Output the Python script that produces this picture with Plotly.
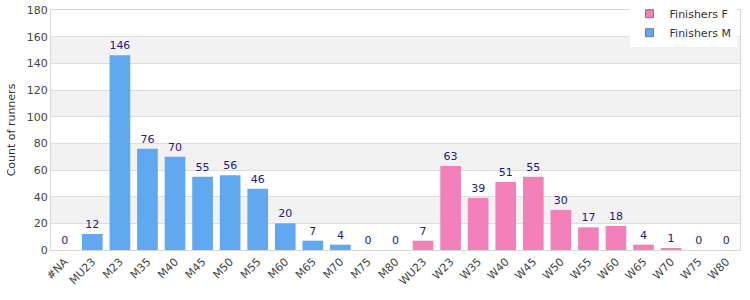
import plotly.graph_objects as go

categories = ["#NA", "MU23", "M23", "M35", "M40", "M45", "M50", "M55", "M60", "M65", "M70", "M75", "M80",
              "WU23", "W23", "W35", "W40", "W45", "W50", "W55", "W60", "W65", "W70", "W75", "W80"]
m_categories = ["#NA", "MU23", "M23", "M35", "M40", "M45", "M50", "M55", "M60", "M65", "M70", "M75", "M80"]
m_values = [0, 12, 146, 76, 70, 55, 56, 46, 20, 7, 4, 0, 0]
f_categories = ["WU23", "W23", "W35", "W40", "W45", "W50", "W55", "W60", "W65", "W70", "W75", "W80"]
f_values = [7, 63, 39, 51, 55, 30, 17, 18, 4, 1, 0, 0]
y_ticks = [0, 20, 40, 60, 80, 100, 120, 140, 160, 180]

BLUE = "#60a8f0"
PINK = "#f281ba"
LABEL = "#1a1a8c"
FONT = "DejaVu Sans"

fig = go.Figure()
fig.add_trace(go.Bar(
    x=f_categories, y=f_values, name="Finishers F", showlegend=False,
    marker=dict(color=PINK, line=dict(width=0)),
    text=[str(v) for v in f_values], textposition="outside",
    textfont=dict(color=LABEL, size=11, family=FONT),
    cliponaxis=False,
))
fig.add_trace(go.Bar(
    x=m_categories, y=m_values, name="Finishers M", showlegend=False,
    marker=dict(color=BLUE, line=dict(width=0)),
    text=[str(v) for v in m_values], textposition="outside",
    textfont=dict(color=LABEL, size=11, family=FONT),
    cliponaxis=False,
))
# legend-only entries with small bordered squares
for name, col in [("Finishers F", PINK), ("Finishers M", BLUE)]:
    fig.add_trace(go.Scatter(
        x=[None], y=[None], mode="markers", name=name,
        marker=dict(symbol="square", size=8, color=col, line=dict(color="#777", width=1)),
    ))

shapes = []
for lo in [20, 60, 100, 140]:
    shapes.append(dict(type="rect", xref="paper", yref="y", x0=0, x1=1, y0=lo, y1=lo + 20,
                       fillcolor="#f2f2f2", line=dict(width=0), layer="below"))

fig.update_layout(
    width=750, height=300,
    margin=dict(l=51, r=10, t=10, b=50, autoexpand=False),
    paper_bgcolor="white", plot_bgcolor="white",
    barmode="overlay", bargap=0.25,
    font=dict(family=FONT, size=11, color="#444"),
    shapes=shapes,
    showlegend=True,
    legend=dict(x=0.995, xanchor="right", y=1.045, yanchor="top",
                bgcolor="white", borderwidth=0, traceorder="normal",
                font=dict(size=11, color="#333", family=FONT),
                itemwidth=30, tracegroupgap=0),
    xaxis=dict(categoryorder="array", categoryarray=categories, tickangle=-45,
               showline=True, linecolor="#d8d8d8", mirror=True, ticks="",
               tickfont=dict(size=11, color="#444"), showgrid=False),
    yaxis=dict(range=[0, 180], tickvals=y_ticks, showline=True, linecolor="#d8d8d8", mirror=True,
               gridcolor="#dedede", zeroline=False, ticks="",
               tickfont=dict(size=11, color="#444"),
               title=dict(text="Count of runners", font=dict(size=11, color="#333"), standoff=8)),
)

fig.write_html("out.html")
